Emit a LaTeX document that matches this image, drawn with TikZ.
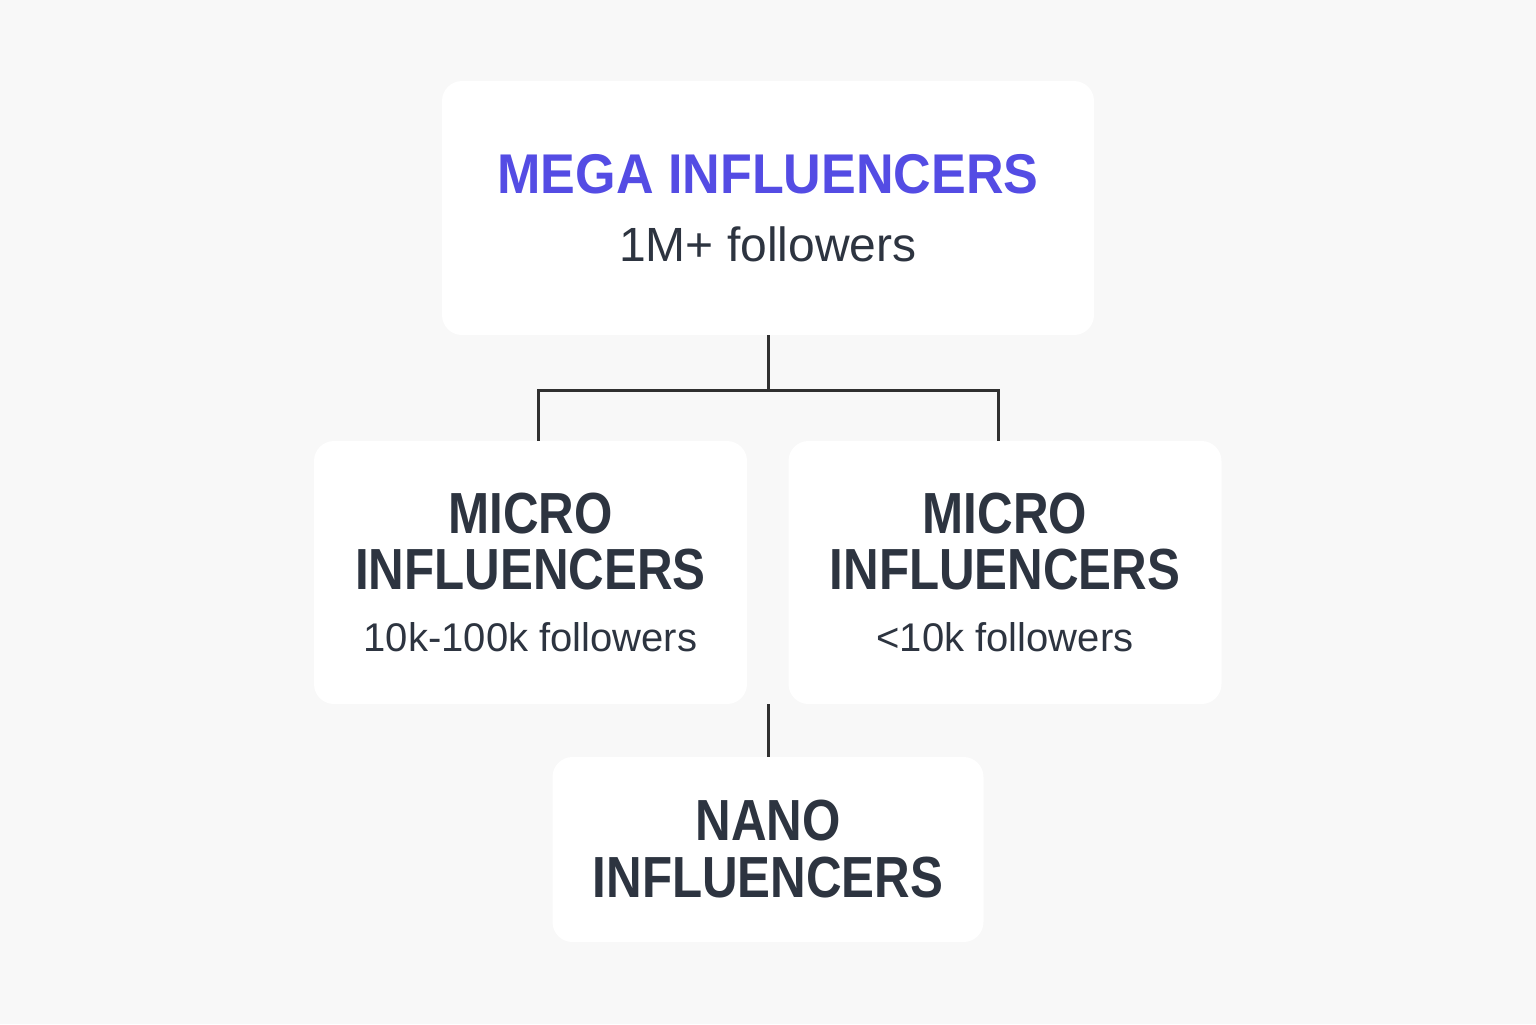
\documentclass[tikz,border=0pt]{standalone}
\usepackage{fontspec}
\setmainfont{Liberation Sans}
\newfontfamily\headfont[FakeStretch=0.85]{Liberation Sans}
\newfontfamily\megafont[FakeStretch=0.93]{Liberation Sans}
\usetikzlibrary{calc}
\definecolor{megablue}{RGB}{84,76,228}
\definecolor{inkgray}{RGB}{45,52,64}
\definecolor{linegray}{RGB}{48,48,48}
\definecolor{paper}{RGB}{248,248,248}
\newcommand{\tiername}[1]{{\headfont\bfseries\fontsize{29}{28}\selectfont #1}}
\newcommand{\tiercount}[1]{{\fontsize{20}{28}\selectfont #1}}

\begin{document}
\begin{tikzpicture}[x=0.5pt, y=-0.5pt,
  tier/.style={shape=rectangle, fill=white, rounded corners=10pt, align=center, inner sep=0pt, text=inkgray},
  link/.style={draw=linegray, line width=1.5pt}]
\fill[paper] (0,0) rectangle (1536,1024);
\useasboundingbox (0,0) rectangle (1536,1024);
\node[tier, minimum width=326pt, minimum height=127pt, font=\fontsize{24}{34}\selectfont] (mega) at (768,208) {{\megafont\bfseries\fontsize{28}{34}\selectfont\color{megablue}MEGA INFLUENCERS}\\1M+ followers};
\node[tier, minimum width=216.5pt, minimum height=131.5pt, font=\fontsize{20}{28}\selectfont] (microA) at (530.5,572.5) {\tiername{MICRO}\\\tiername{INFLUENCERS}\\[3pt]\tiercount{10k-100k followers}};
\node[tier, minimum width=216.5pt, minimum height=131.5pt, font=\fontsize{20}{28}\selectfont] (microB) at (1005,572.5) {\tiername{MICRO}\\\tiername{INFLUENCERS}\\[3pt]\tiercount{<10k followers}};
\node[tier, minimum width=215.5pt, minimum height=92.5pt, font=\fontsize{20}{28.5}\selectfont] (nano) at (768,849.5) {\tiername{NANO}\\\tiername{INFLUENCERS}};
\coordinate (fork) at (768,390);
\coordinate (gap) at (768,704);
\draw[link] (mega.south) -- (fork);
\draw[link] (fork) -| ([xshift=3.75pt]microA.north);
\draw[link] (fork) -| ([xshift=-3.5pt]microB.north);
\draw[link] (gap) -- (nano.north);
\end{tikzpicture}
\end{document}
